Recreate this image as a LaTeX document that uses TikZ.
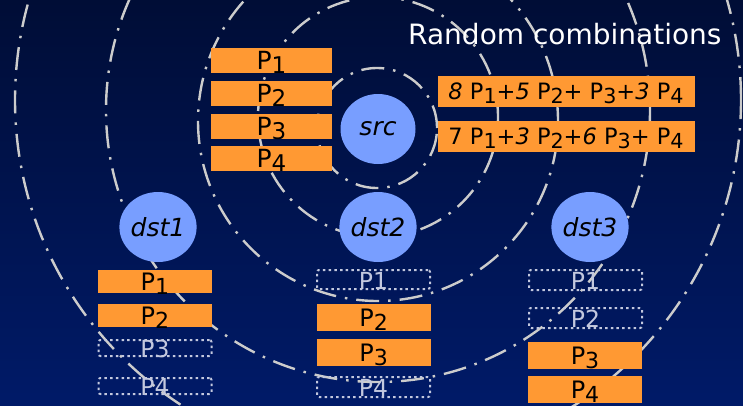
\documentclass[tikz,border=0pt]{standalone}
\usepackage{fontspec}
\setmainfont{DejaVu Sans}
\usetikzlibrary{shapes.geometric}
\definecolor{bgtop}{RGB}{0,13,54}
\definecolor{bgbot}{RGB}{0,26,104}
\definecolor{pkt}{RGB}{255,153,51}
\definecolor{hostblue}{RGB}{120,158,255}
\definecolor{ringgray}{RGB}{204,204,204}
\definecolor{ghost}{RGB}{195,200,222}
\newcommand{\Pn}[1]{P\smash{\raisebox{-0.17em}{\scalebox{0.92}{#1}}}}
\newcommand{\Gh}[1]{\smash{\raisebox{-0.42em}{#1}}}
\begin{document}
\begin{tikzpicture}[x=1pt,y=-1pt,
  ring/.style={draw=ringgray, line width=2.4pt, dash pattern=on 23pt off 9pt on 2.5pt off 9pt},
  hostnode/.style={ellipse, fill=hostblue, minimum width=75pt, minimum height=70pt, inner sep=0pt, font=\fontsize{25}{25}\selectfont\itshape},
  obox/.style={rectangle, fill=pkt, inner sep=0pt, minimum width=114pt, font=\fontsize{24}{24}\selectfont},
  sbox/.style={rectangle, fill=pkt, inner sep=0pt, minimum width=121pt, minimum height=25pt, font=\fontsize{25}{25}\selectfont},
  cbox/.style={rectangle, fill=pkt, inner sep=0pt, minimum width=257pt, minimum height=31pt, font=\fontsize{22.5}{22.5}\selectfont},
  dbox/.style={rectangle, draw=ghost, rounded corners=2pt, line width=2pt, dash pattern=on 2.5pt off 3.2pt, inner sep=0pt, minimum width=113pt, text=ghost, font=\fontsize{23.5}{23.5}\selectfont},
  title/.style={text=white, inner sep=0pt, anchor=base west, font=\fontsize{28}{28}\selectfont}
]
\useasboundingbox (0,0) rectangle (743,405);
\shade[top color=bgtop, bottom color=bgbot] (0,0) rectangle (743,405);

% ripples
\draw[ring] (377,128) circle[radius=60pt];
\draw[ring] (378,117) circle[radius=120pt];
\draw[ring] (378,121) circle[radius=180pt];
\draw[ring] (378,110) circle[radius=272pt];
\draw[ring] (378,100) circle[radius=363pt];

\node[title] (ttl) at (408,44) {Random combinations};

% source
\node[hostnode] (src) at (378,129) {src};
\node[sbox] (s1) at (271.5,60.5) {\Pn{1}};
\node[sbox] (s2) at (271.5,93.5) {\Pn{2}};
\node[sbox] (s3) at (271.5,126.5) {\Pn{3}};
\node[sbox] (s4) at (271.5,158.5) {\Pn{4}};

\node[cbox] (c1) at (566,91.5) {\textit{8} \Pn{1}+\textit{5} \Pn{2}+ \Pn{3}+\textit{3} \Pn{4}};
\node[cbox] (c2) at (566,136.5) {7 \Pn{1}+\textit{3} \Pn{2}+\textit{6} \Pn{3}+ \Pn{4}};

% destinations
\node[hostnode] (d1) at (158,227) {dst1};
\node[hostnode] (d2) at (378,227) {dst2};
\node[hostnode] (d3) at (590,227) {dst3};

% dst1
\node[obox, minimum height=22.7pt] (a1) at (155,281.3) {\Pn{1}};
\node[obox, minimum height=22.7pt] (a2) at (155,315.3) {\Pn{2}};
\node[dbox, minimum height=16pt] (a3) at (155,348) {\Gh{P3}};
\node[dbox, minimum height=16pt] (a4) at (155,386) {\Gh{P4}};

% dst2
\node[dbox, minimum height=19pt] (b1) at (373.5,279.5) {\Gh{P1}};
\node[obox, minimum height=26.7pt] (b2) at (373.7,317.3) {\Pn{2}};
\node[obox, minimum height=26.7pt] (b3) at (373.7,352.3) {\Pn{3}};
\node[dbox, minimum height=20pt] (b4) at (373.5,387) {\Gh{P4}};

% dst3
\node[dbox, minimum height=20pt] (e1) at (585.5,280) {\Gh{P1}};
\node[dbox, minimum height=20pt] (e2) at (585.5,318) {\Gh{P2}};
\node[obox, minimum height=27pt] (e3) at (585,355.5) {\Pn{3}};
\node[obox, minimum height=26.7pt] (e4) at (585,389.3) {\Pn{4}};
\end{tikzpicture}
\end{document}
